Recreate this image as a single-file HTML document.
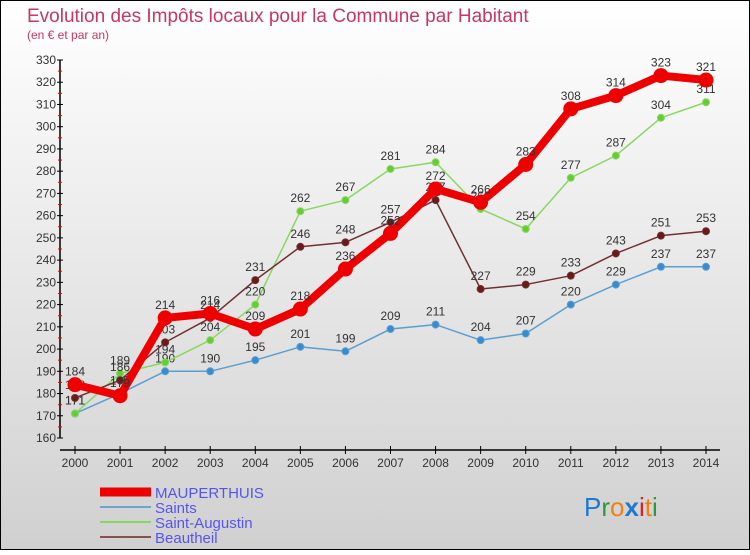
<!DOCTYPE html>
<html><head><meta charset="utf-8"><style>
html,body{margin:0;padding:0}
body{width:750px;height:550px;overflow:hidden;font-family:"Liberation Sans",sans-serif}
</style></head><body>
<svg width="750" height="550" xmlns="http://www.w3.org/2000/svg">
<defs><linearGradient id="bg" x1="0" y1="0" x2="0" y2="1"><stop offset="0" stop-color="#ffffff"/><stop offset="1" stop-color="#d0d0d0"/></linearGradient></defs>
<rect x="0.5" y="0.5" width="749" height="549" fill="url(#bg)" stroke="#000"/>
<text x="27" y="22" font-size="19" fill="#c8375f">Evolution des Impôts locaux pour la Commune par Habitant</text>
<text x="27" y="39" font-size="12" fill="#c8375f">(en € et par an)</text>
<g id="axes"></g>
<g id="series"></g>
<g id="legend"></g>
<text x="584" y="516" font-size="26" font-family="Liberation Sans, sans-serif"><tspan fill="#1e78d0">P</tspan><tspan fill="#2a9a3a">r</tspan><tspan fill="#f08010">o</tspan><tspan fill="#1e78d0" font-weight="bold">x</tspan><tspan fill="#e02020">i</tspan><tspan fill="#f08010">t</tspan><tspan fill="#2a9a3a">i</tspan></text>
</svg>
<script>
const years=[2000,2001,2002,2003,2004,2005,2006,2007,2008,2009,2010,2011,2012,2013,2014];
const maupValues=[184,179,214,216,209,218,236,252,272,266,283,308,314,323,321];
const saintsValues=[171,180,190,190,195,201,199,209,211,204,207,220,229,237,237];
const saintAugustinValues=[171,189,194,204,220,262,267,281,284,263,254,277,287,304,311];
const beautheilValues=[178,186,203,214,231,246,248,257,267,227,229,233,243,251,253];
const yTicks=[160,170,180,190,200,210,220,230,240,250,260,270,280,290,300,310,320,330];
const seriesNames=["MAUPERTHUIS","Saints","Saint-Augustin","Beautheil"];
const NS="http://www.w3.org/2000/svg";
const x=i=>75+i*(706-75)/(years.length-1);
const y=v=>438-(v-160)*(378/170);
function mk(tag,attrs,parent){const e=document.createElementNS(NS,tag);for(const k in attrs)e.setAttribute(k,attrs[k]);parent.appendChild(e);return e;}
const ax=document.getElementById('axes');
let a=mk('line',{x1:60,y1:y(330),x2:60,y2:438,stroke:'#000','stroke-width':1.5},ax);


a=mk('line',{x1:60,y1:450,x2:720,y2:450,stroke:'#000','stroke-width':1.5},ax);


yTicks.forEach((t,i)=>{
 mk('line',{x1:57,y1:y(t),x2:63,y2:y(t),stroke:'#000'},ax);
 if(i<yTicks.length-1) mk('line',{x1:58,y1:y(t+5),x2:62,y2:y(t+5),stroke:'#e00'},ax);
 const tx=mk('text',{x:56,y:y(t)+4,'font-size':12,'text-anchor':'end',fill:'#333'},ax);
 tx.textContent=t;
 
 
});
years.forEach((yr,i)=>{
 mk('line',{x1:x(i),y1:446,x2:x(i),y2:454,stroke:'#000'},ax);
 const tx=mk('text',{x:x(i),y:467,'font-size':12,'text-anchor':'middle',fill:'#333'},ax);
 tx.textContent=yr;
 
 
});
const sg=document.getElementById('series');
function drawSeries(vals,color,dot,w,r,name){
 const g=mk('g',{},sg);
 
 
 const p=mk('polyline',{points:vals.map((v,i)=>x(i)+','+y(v)).join(' '),fill:'none',stroke:color,'stroke-width':w,'stroke-linejoin':'round'},g);
 
 
 vals.forEach((v,i)=>{
  const c=mk('circle',{cx:x(i),cy:y(v),r:r,fill:dot,stroke:color,'stroke-width':1},g);
  
  
  const t=mk('text',{x:x(i),y:y(v)-9,'font-size':12,'text-anchor':'middle',fill:'#333'},g);
  t.textContent=v;
  
  
 });
}
drawSeries(saintsValues,'#5a9fd0','#3a8ad0',1.5,3.5,'saints');
drawSeries(saintAugustinValues,'#88d860','#66cc33',1.5,3.5,'saint-augustin');
drawSeries(beautheilValues,'#703030','#6a1a1a',1.5,3.5,'beautheil');
drawSeries(maupValues,'#ee0000','#ee0000',8,7,'mauperthuis');
const lg=document.getElementById('legend');
const lcol=['#ee0000','#6aa6d0','#88d860','#8a5050'];
const lw=[9,2,2,2];
seriesNames.forEach((n,i)=>{
 const yy=492+i*15;
 const g=mk('g',{},lg);
 
 
 mk('line',{x1:100,y1:yy,x2:151,y2:yy,stroke:lcol[i],'stroke-width':lw[i]},g);
 const t=mk('text',{x:155,y:yy+6,'font-size':15,fill:'#5555ee'},g);
 t.textContent=n;
});
</script>
</body></html>
